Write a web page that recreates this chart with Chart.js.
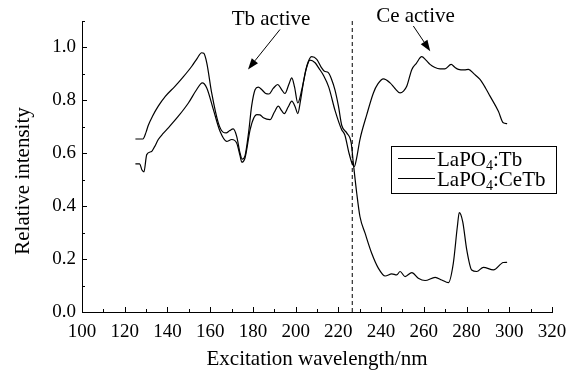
<!DOCTYPE html>
<html>
<head>
<meta charset="utf-8">
<script src="https://cdn.jsdelivr.net/npm/chart.js@4.4.1/dist/chart.umd.min.js"></script>
<style>
  html, body { margin: 0; padding: 0; background: #fff; }
  #wrap { width: 583px; height: 372px; }
</style>
</head>
<body>
<div id="wrap"><canvas id="spectrum" width="583" height="372"></canvas></div>
<script>
// ---- data ----
const tbWavelength = [125, 128.5, 130, 131, 133, 135.7, 139, 143.5, 147, 151.4, 154, 156, 157, 158.4, 160.7, 163.8, 166, 167.5, 169, 170.8, 172.4, 174, 175, 176.3, 178, 179.4, 181, 182.5, 184.1, 186, 187.5, 189.5, 191.6, 193.5, 195, 196.8, 198.2, 199.5, 201, 202.9, 205.2, 207.5, 209.9, 212, 213.5, 215.3, 216.8, 218.4, 220, 221.6, 223.9, 226, 227, 228.6, 230.1, 232.5, 235.6, 238.7, 241.9, 245, 247.3, 248.9, 251.2, 254.4, 257.4, 260.6, 265.3, 268.4, 271.5, 273.8, 275.7, 276.6, 278.2, 280.1, 282.4, 284.8, 287.9, 292.6, 297.2, 299];
const tbIntensity = [0.654, 0.654, 0.68, 0.705, 0.74, 0.778, 0.815, 0.853, 0.885, 0.929, 0.96, 0.98, 0.978, 0.942, 0.828, 0.715, 0.68, 0.677, 0.685, 0.692, 0.664, 0.60, 0.578, 0.59, 0.68, 0.778, 0.84, 0.85, 0.841, 0.826, 0.824, 0.845, 0.86, 0.84, 0.826, 0.86, 0.885, 0.85, 0.79, 0.841, 0.929, 0.965, 0.955, 0.925, 0.91, 0.905, 0.88, 0.84, 0.78, 0.705, 0.677, 0.639, 0.563, 0.449, 0.361, 0.298, 0.222, 0.166, 0.136, 0.144, 0.14, 0.153, 0.134, 0.149, 0.128, 0.119, 0.131, 0.121, 0.111, 0.184, 0.323, 0.376, 0.342, 0.235, 0.159, 0.153, 0.169, 0.159, 0.187, 0.188];

const ceTbWavelength = [125, 127, 128, 129, 130.3, 132.6, 134, 135.7, 138, 140.4, 145.1, 149.8, 153.7, 156.3, 158.4, 161.5, 164.6, 167.7, 170.1, 172.4, 174, 174.8, 176.3, 178.7, 180.5, 181.8, 183.3, 184.9, 188, 190, 191.9, 193.5, 194.7, 196.5, 198.2, 199.8, 201, 202.3, 203.6, 205, 206.7, 209.1, 211, 213, 215.5, 218.5, 221.5, 223, 225, 226.5, 227.5, 228.5, 230.1, 233.3, 236.4, 238.5, 241.1, 244.2, 246.5, 248.9, 250.5, 252, 254.4, 256.5, 259, 261, 262.9, 265, 267.6, 269.9, 272.8, 274.5, 276.2, 279, 280.9, 283.5, 286.3, 289, 291, 294.9, 297.2, 299];
const ceTbIntensity = [0.56, 0.56, 0.538, 0.53, 0.595, 0.607, 0.625, 0.652, 0.675, 0.696, 0.74, 0.79, 0.841, 0.866, 0.847, 0.765, 0.683, 0.645, 0.652, 0.639, 0.59, 0.566, 0.582, 0.689, 0.735, 0.746, 0.745, 0.734, 0.727, 0.755, 0.778, 0.76, 0.75, 0.775, 0.797, 0.775, 0.75, 0.8, 0.866, 0.92, 0.952, 0.942, 0.92, 0.895, 0.85, 0.76, 0.69, 0.67, 0.6, 0.56, 0.55, 0.58, 0.652, 0.746, 0.828, 0.862, 0.881, 0.866, 0.845, 0.828, 0.835, 0.853, 0.917, 0.94, 0.965, 0.952, 0.936, 0.925, 0.919, 0.919, 0.936, 0.925, 0.917, 0.915, 0.917, 0.9, 0.879, 0.845, 0.816, 0.759, 0.715, 0.712];

const seriesNames = ["LaPO4:Tb", "LaPO4:CeTb"];
const xTickValues = [100, 120, 140, 160, 180, 200, 220, 240, 260, 280, 300, 320];
const yTickValues = [0.0, 0.2, 0.4, 0.6, 0.8, 1.0];
const dividerWavelength = 226.5;

const serif = "'Liberation Serif', 'Times New Roman', serif";

function toPoints(xs, ys) {
    return xs.map((x, i) => ({ x: x, y: ys[i] }));
}

// inward major/minor ticks like the original plot
const innerTicks = {
    id: "innerTicks",
    afterDraw(chart) {
        const ctx = chart.ctx;
        const xs = chart.scales.x, ys = chart.scales.y;
        const area = chart.chartArea;
        ctx.save();
        ctx.strokeStyle = "#000";
        ctx.lineWidth = 1;
        ctx.beginPath();
        for (let v = xs.min; v <= xs.max + 0.001; v += 10) {
            const px = Math.round(xs.getPixelForValue(v)) + 0.5;
            const len = (Math.round(v) % 20 === 0) ? 5 : 3;
            ctx.moveTo(px, area.bottom);
            ctx.lineTo(px, area.bottom - len);
        }
        for (let i = 0; i <= 11; i++) {
            const v = i / 10;
            const py = Math.round(ys.getPixelForValue(v)) + 0.5;
            const len = (i % 2 === 0) ? 5 : 3;
            ctx.moveTo(area.left, py);
            ctx.lineTo(area.left + len, py);
        }
        ctx.stroke();
        ctx.restore();
    }
};

// y title sits a bit below the middle in the original
const yTitle = {
    id: "yTitle",
    afterDraw(chart) {
        const ctx = chart.ctx;
        ctx.save();
        ctx.translate(23, 181);
        ctx.rotate(-Math.PI / 2);
        ctx.font = "21px " + serif;
        ctx.fillStyle = "#000";
        ctx.textAlign = "center";
        ctx.textBaseline = "middle";
        ctx.fillText("Relative intensity", 0, 0);
        ctx.restore();
    }
};

// arrow + text labels
function drawArrow(ctx, x1, y1, x2, y2) {
    const ang = Math.atan2(y2 - y1, x2 - x1);
    const head = 11, half = 4;
    const bx = x2 - head * Math.cos(ang), by = y2 - head * Math.sin(ang);
    ctx.beginPath();
    ctx.moveTo(x1, y1);
    ctx.lineTo(bx, by);
    ctx.stroke();
    ctx.beginPath();
    ctx.moveTo(x2, y2);
    ctx.lineTo(bx + half * Math.sin(ang), by - half * Math.cos(ang));
    ctx.lineTo(bx - half * Math.sin(ang), by + half * Math.cos(ang));
    ctx.closePath();
    ctx.fill();
}

const notes = {
    id: "notes",
    afterDraw(chart, args, opts) {
        const ctx = chart.ctx;
        const xs = chart.scales.x, ys = chart.scales.y;
        ctx.save();
        ctx.fillStyle = "#000";
        ctx.strokeStyle = "#000";
        ctx.lineWidth = 1;
        ctx.font = "21px " + serif;
        ctx.textAlign = "center";
        ctx.textBaseline = "alphabetic";
        opts.items.forEach(n => {
            ctx.fillText(n.text, xs.getPixelForValue(n.at[0]), ys.getPixelForValue(n.at[1]));
            drawArrow(ctx,
                xs.getPixelForValue(n.from[0]), ys.getPixelForValue(n.from[1]),
                xs.getPixelForValue(n.to[0]), ys.getPixelForValue(n.to[1]));
        });
        ctx.restore();
    }
};

// boxed legend with subscript "4"
const boxLegend = {
    id: "boxLegend",
    afterDraw(chart) {
        const ctx = chart.ctx;
        const area = chart.chartArea;
        const left = area.right - 161, top = area.top + 125;
        const w = 165, h = 47;
        ctx.save();
        ctx.strokeStyle = "#000";
        ctx.fillStyle = "#fff";
        ctx.lineWidth = 1;
        ctx.fillRect(left, top, w, h);
        ctx.strokeRect(left + 0.5, top + 0.5, w, h);
        ctx.fillStyle = "#000";
        ctx.textBaseline = "alphabetic";
        ctx.textAlign = "left";
        chart.data.datasets.slice(0, 2).forEach((ds, i) => {
            const y = top + 12.5 + i * 20;
            ctx.lineWidth = 1.2;
            ctx.beginPath();
            ctx.moveTo(left + 7, y);
            ctx.lineTo(left + 44, y);
            ctx.stroke();
            const parts = ds.label.split("4");
            let x = left + 46;
            const base = y + 7;
            ctx.font = "21px " + serif;
            ctx.fillText(parts[0], x, base);
            x += ctx.measureText(parts[0]).width;
            ctx.font = "14px " + serif;
            ctx.fillText("4", x, base + 4);
            x += ctx.measureText("4").width;
            ctx.font = "21px " + serif;
            ctx.fillText(parts[1], x, base);
        });
        ctx.restore();
    }
};

new Chart(document.getElementById("spectrum"), {
    type: "line",
    data: {
        datasets: [
            {
                label: seriesNames[0],
                data: toPoints(tbWavelength, tbIntensity),
                borderColor: "#000",
                borderWidth: 1.2,
                pointRadius: 0,
                cubicInterpolationMode: "monotone"
            },
            {
                label: seriesNames[1],
                data: toPoints(ceTbWavelength, ceTbIntensity),
                borderColor: "#000",
                borderWidth: 1.2,
                pointRadius: 0,
                cubicInterpolationMode: "monotone"
            },
            {
                label: "divider",
                data: [{ x: dividerWavelength, y: 0 }, { x: dividerWavelength, y: 1.1 }],
                borderColor: "#000",
                borderWidth: 1,
                borderDash: [4, 3],
                pointRadius: 0
            }
        ]
    },
    options: {
        responsive: false,
        animation: false,
        layout: { padding: { top: 21, right: 31, left: 0, bottom: 0 } },
        plugins: {
            legend: { display: false },
            tooltip: { enabled: false },
            notes: {
                items: [
                    { text: "Tb active", at: [188.5, 1.086], from: [192.7, 1.068], to: [177.7, 0.917] },
                    { text: "Ce active", at: [256.1, 1.098], from: [255.1, 1.081], to: [263.0, 0.986] }
                ]
            }
        },
        scales: {
            x: {
                type: "linear",
                min: 100,
                max: 320,
                afterFit(scale) { scale.height = 60; },
                afterBuildTicks(scale) { scale.ticks = xTickValues.map(v => ({ value: v })); },
                grid: { display: false, drawTicks: false },
                border: { display: true, color: "#000", width: 1 },
                ticks: {
                    color: "#000",
                    font: { family: serif, size: 19 },
                    padding: 9,
                    maxRotation: 0,
                    autoSkip: false
                },
                title: {
                    display: true,
                    text: "Excitation wavelength/nm",
                    color: "#000",
                    font: { family: serif, size: 21 },
                    padding: { top: 0, bottom: 0 }
                }
            },
            y: {
                min: 0,
                max: 1.1,
                afterFit(scale) { scale.width = 82; },
                afterBuildTicks(scale) { scale.ticks = yTickValues.map(v => ({ value: v })); },
                grid: { display: false, drawTicks: false },
                border: { display: true, color: "#000", width: 1 },
                ticks: {
                    color: "#000",
                    font: { family: serif, size: 19 },
                    padding: 6,
                    callback: v => Number(v).toFixed(1)
                },
                title: { display: false }
            }
        }
    },
    plugins: [innerTicks, yTitle, notes, boxLegend]
});
</script>
</body>
</html>
